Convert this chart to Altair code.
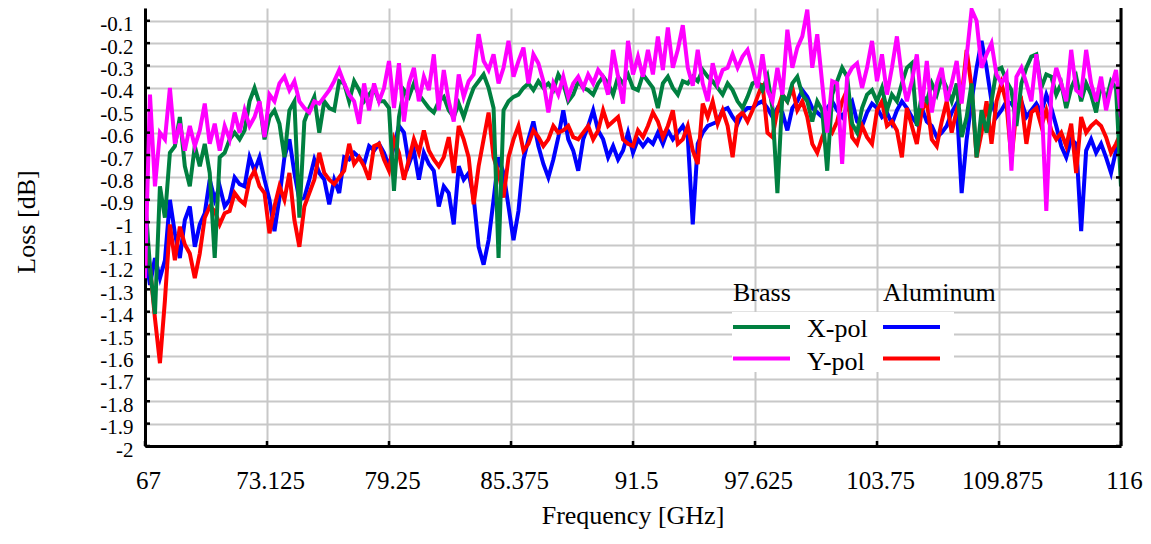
import altair as alt
import pandas as pd

# ---------------- data ----------------
F_START = 67.0
F_STEP = 0.25

x_ticks = [67, 73.125, 79.25, 85.375, 91.5, 97.625, 103.75, 109.875, 116]
y_ticks = [-0.1, -0.2, -0.3, -0.4, -0.5, -0.6, -0.7, -0.8, -0.9, -1.0,
           -1.1, -1.2, -1.3, -1.4, -1.5, -1.6, -1.7, -1.8, -1.9, -2.0]

# Brass, X-pol (green)
brass_xpol = [
    -0.89, -1.20, -1.41, -0.84, -0.98, -0.69, -0.66, -0.53, -0.75, -0.84,
    -0.66, -0.75, -0.65, -0.78, -1.16, -0.71, -0.69, -0.63, -0.60, -0.63,
    -0.59, -0.46, -0.40, -0.47, -0.63, -0.53, -0.50, -0.56, -0.71, -0.50,
    -0.46, -0.98, -0.55, -0.49, -0.44, -0.60, -0.46, -0.49, -0.50, -0.37,
    -0.38, -0.46, -0.37, -0.41, -0.46, -0.43, -0.40, -0.46, -0.46, -0.49,
    -0.86, -0.53, -0.41, -0.44, -0.38, -0.43, -0.46, -0.49, -0.51, -0.46,
    -0.44, -0.50, -0.53, -0.47, -0.53, -0.46, -0.40, -0.37, -0.34, -0.40,
    -0.49, -1.16, -0.50, -0.46, -0.44, -0.43, -0.40, -0.38, -0.41, -0.37,
    -0.40, -0.38, -0.41, -0.34, -0.38, -0.46, -0.43, -0.37, -0.40, -0.41,
    -0.43, -0.38, -0.35, -0.38, -0.43, -0.35, -0.38, -0.34,
    -0.40, -0.41, -0.34, -0.37, -0.40, -0.49, -0.38, -0.35, -0.40, -0.43,
    -0.37, -0.38, -0.35, -0.37, -0.32, -0.35, -0.37, -0.40, -0.43, -0.38,
    -0.41, -0.46, -0.49, -0.44, -0.38, -0.37, -0.41, -0.35, -0.49, -0.87,
    -0.43, -0.46, -0.38, -0.35, -0.43, -0.46, -0.55, -0.46, -0.50, -0.77,
    -0.43, -0.37, -0.31, -0.35, -0.56, -0.60, -0.49, -0.43, -0.41, -0.46,
    -0.40, -0.50, -0.43, -0.46, -0.38, -0.31, -0.29, -0.57, -0.43, -0.46,
    -0.38, -0.43, -0.35, -0.40, -0.46, -0.38, -0.62, -0.53, -0.38, -0.71,
    -0.50, -0.60, -0.46, -0.32, -0.31, -0.37, -0.41, -0.57, -0.38, -0.31,
    -0.26, -0.25, -0.40, -0.34, -0.35, -0.43, -0.38, -0.49, -0.40, -0.35,
    -0.46, -0.38, -0.43, -0.51, -0.38, -0.46, -0.37, -0.40, -0.84,
]

# Brass, Y-pol (magenta)
brass_ypol = [
    -1.25, -0.43, -0.84, -0.60, -0.63, -0.40, -0.65, -0.56, -0.68, -0.57,
    -0.66, -0.59, -0.47, -0.65, -0.56, -0.68, -0.57, -0.63, -0.51, -0.60,
    -0.50, -0.57, -0.53, -0.46, -0.62, -0.43, -0.46, -0.38, -0.35, -0.41,
    -0.37, -0.46, -0.49, -0.51, -0.46, -0.47, -0.44, -0.41, -0.37, -0.32,
    -0.38, -0.43, -0.46, -0.56, -0.38, -0.50, -0.38, -0.46, -0.40, -0.28,
    -0.49, -0.29, -0.55, -0.38, -0.31, -0.46, -0.35, -0.41, -0.25, -0.50,
    -0.32, -0.46, -0.55, -0.34, -0.44, -0.37, -0.34, -0.16, -0.28, -0.32,
    -0.25, -0.38, -0.31, -0.19, -0.35, -0.28, -0.22, -0.38, -0.25, -0.29,
    -0.37, -0.51, -0.38, -0.43, -0.35, -0.44, -0.38, -0.35, -0.40, -0.34,
    -0.38, -0.32, -0.35, -0.43, -0.23, -0.35, -0.47, -0.19,
    -0.34, -0.26, -0.35, -0.23, -0.34, -0.17, -0.32, -0.13, -0.31, -0.23,
    -0.12, -0.31, -0.39, -0.23, -0.38, -0.46, -0.29, -0.38, -0.32, -0.31,
    -0.25, -0.31, -0.26, -0.23, -0.31, -0.40, -0.25, -0.41, -0.46, -0.31,
    -0.43, -0.14, -0.31, -0.22, -0.17, -0.05, -0.31, -0.16, -0.38, -0.60,
    -0.37, -0.38, -0.74, -0.35, -0.31, -0.29, -0.40, -0.31, -0.19, -0.37,
    -0.25, -0.43, -0.31, -0.17, -0.35, -0.46, -0.37, -0.25, -0.49, -0.28,
    -0.51, -0.38, -0.31, -0.46, -0.38, -0.28, -0.47, -0.26, -0.05, -0.10,
    -0.31, -0.25, -0.20, -0.34, -0.38, -0.34, -0.77, -0.35, -0.31, -0.38,
    -0.46, -0.25, -0.43, -0.95, -0.43, -0.31, -0.38, -0.46, -0.23, -0.41,
    -0.43, -0.23, -0.38, -0.46, -0.35, -0.50, -0.40, -0.32, -0.53,
]

# Aluminum, X-pol (blue)
alu_xpol = [
    -1.14, -1.28, -1.16, -1.25, -1.17, -0.90, -1.05, -1.16, -0.99, -0.93,
    -1.11, -1.01, -0.96, -0.81, -0.90, -0.84, -0.93, -0.90, -0.80, -0.83,
    -0.84, -0.71, -0.77, -0.71, -0.81, -0.90, -1.04, -0.89, -0.71, -0.63,
    -0.78, -0.90, -0.89, -0.81, -0.72, -0.78, -0.81, -0.92, -0.81, -0.87,
    -0.71, -0.72, -0.69, -0.71, -0.74, -0.66, -0.68, -0.65, -0.69, -0.75,
    -0.66, -0.57, -0.60, -0.74, -0.68, -0.81, -0.69, -0.74, -0.77, -0.93,
    -0.84, -0.87, -1.01, -0.75, -0.81, -0.78, -0.89, -1.11, -1.19, -1.08,
    -0.90, -0.71, -0.78, -0.93, -1.08, -0.95, -0.72, -0.63, -0.55, -0.66,
    -0.74, -0.80, -0.72, -0.62, -0.50, -0.63, -0.68, -0.77, -0.63, -0.57,
    -0.50, -0.59, -0.63, -0.71, -0.66, -0.72, -0.68, -0.60,
    -0.69, -0.63, -0.66, -0.63, -0.65, -0.60, -0.65, -0.59, -0.63, -0.60,
    -0.57, -0.62, -1.01, -0.65, -0.60, -0.57, -0.56, -0.55, -0.50, -0.49,
    -0.53, -0.56, -0.51, -0.49, -0.49, -0.47, -0.46, -0.49, -0.53, -0.49,
    -0.51, -0.59, -0.49, -0.46, -0.41, -0.44, -0.49, -0.51, -0.53, -0.49,
    -0.46, -0.50, -0.53, -0.49, -0.46, -0.55, -0.57, -0.51, -0.47, -0.49,
    -0.53, -0.51, -0.56, -0.50, -0.46, -0.49, -0.53, -0.56, -0.49, -0.55,
    -0.57, -0.62, -0.60, -0.57, -0.51, -0.47, -0.87, -0.63, -0.46, -0.31,
    -0.19, -0.31, -0.46, -0.53, -0.50, -0.46, -0.47, -0.50, -0.46, -0.53,
    -0.50, -0.47, -0.51, -0.43, -0.49, -0.57, -0.66, -0.71, -0.63, -0.65,
    -1.04, -0.68, -0.63, -0.69, -0.65, -0.71, -0.78, -0.68, -0.60,
]

# Aluminum, Y-pol (red)
alu_ypol = [
    -1.05, -1.20, -1.43, -1.63, -1.35, -1.01, -1.17, -1.02, -1.10, -1.14,
    -1.25, -1.14, -0.98, -0.93, -0.95, -1.01, -0.96, -0.95, -0.87, -0.90,
    -0.92, -0.81, -0.77, -0.84, -0.87, -1.05, -0.93, -0.84, -0.90, -0.78,
    -0.99, -1.11, -0.93, -0.87, -0.81, -0.69, -0.78, -0.81, -0.83, -0.80,
    -0.77, -0.65, -0.74, -0.71, -0.75, -0.81, -0.66, -0.65, -0.72, -0.77,
    -0.63, -0.69, -0.81, -0.72, -0.63, -0.69, -0.59, -0.68, -0.72, -0.75,
    -0.71, -0.62, -0.78, -0.57, -0.63, -0.71, -0.92, -0.75, -0.63, -0.51,
    -0.71, -0.78, -0.89, -0.71, -0.63, -0.57, -0.68, -0.65, -0.59, -0.62,
    -0.66, -0.63, -0.57, -0.60, -0.59, -0.57, -0.62, -0.63, -0.60, -0.57,
    -0.63, -0.59, -0.50, -0.57, -0.55, -0.53, -0.63, -0.65,
    -0.66, -0.59, -0.62, -0.57, -0.51, -0.55, -0.62, -0.57, -0.50, -0.65,
    -0.63, -0.57, -0.68, -0.74, -0.47, -0.53, -0.46, -0.56, -0.50, -0.57,
    -0.71, -0.53, -0.51, -0.55, -0.50, -0.44, -0.38, -0.60, -0.62, -0.50,
    -0.43, -0.46, -0.40, -0.50, -0.46, -0.53, -0.65, -0.69, -0.62, -0.57,
    -0.60, -0.55, -0.46, -0.41, -0.62, -0.65, -0.57, -0.62, -0.65, -0.50,
    -0.46, -0.57, -0.55, -0.59, -0.71, -0.49, -0.57, -0.65, -0.50, -0.46,
    -0.63, -0.66, -0.55, -0.46, -0.60, -0.50, -0.44, -0.23, -0.40, -0.71,
    -0.60, -0.46, -0.65, -0.46, -0.38, -0.47, -0.72, -0.50, -0.46, -0.65,
    -0.51, -0.49, -0.57, -0.50, -0.59, -0.63, -0.60, -0.66, -0.56, -0.78,
    -0.53, -0.60, -0.57, -0.55, -0.57, -0.62, -0.69, -0.65, -0.60,
]

series_names = ["alu_xpol", "alu_ypol", "brass_xpol", "brass_ypol"]  # drawing order
series_values = {"alu_xpol": alu_xpol, "alu_ypol": alu_ypol,
                 "brass_xpol": brass_xpol, "brass_ypol": brass_ypol}
series_colors = {"alu_xpol": "#0000ff", "alu_ypol": "#ff0000",
                 "brass_xpol": "#008040", "brass_ypol": "#ff00ff"}

legend_groups = ["Brass", "Aluminum"]
legend_rows = ["X-pol", "Y-pol"]
legend_colors = [["#008040", "#ff00ff"], ["#0000ff", "#ff0000"]]

for k, v in series_values.items():
    assert len(v) == 197, (k, len(v))

rows = []
for name in series_names:
    for i, val in enumerate(series_values[name]):
        rows.append({"series": name, "freq": F_START + F_STEP * i, "loss": val})
df = pd.DataFrame(rows)

# ---------------- layout ----------------
W, H = 976, 438
FONT = "Liberation Serif"
GRID = "#c8c8c8"

x_scale = alt.Scale(domain=[67, 116], nice=False, zero=False)
y_scale = alt.Scale(domain=[-2, -0.043], nice=False, zero=False)

x_axis = alt.Axis(values=x_ticks, labelExpr="'' + datum.value", title="",
                  labelFont=FONT, labelFontSize=25, labelColor="black",
                  labelPadding=22, labelOffset=3, labelFlush=False, labelOverlap=False,
                  ticks=False, tickSize=0, domainColor="black", domainWidth=3,
                  grid=True, gridColor=GRID, gridWidth=2)
y_axis = alt.Axis(values=y_ticks, tickCount=20, labelExpr="'' + datum.value", title="",
                  labelFont=FONT, labelFontSize=21, labelColor="black",
                  labelPadding=12, labelOffset=4, labelFlush=False, labelOverlap=False,
                  ticks=False, tickSize=0, domainColor="black", domainWidth=3,
                  grid=True, gridColor=GRID, gridWidth=2)


def X(field="freq:Q"):
    return alt.X(field, scale=x_scale, axis=x_axis)


def Y(field="loss:Q"):
    return alt.Y(field, scale=y_scale, axis=y_axis)


base = alt.Chart(df)
layers = []
for name in series_names:
    layers.append(
        base.transform_filter(alt.datum.series == name)
        .mark_line(color=series_colors[name], strokeWidth=4, clip=True)
        .encode(x=X(), y=Y())
    )

ydf = pd.DataFrame({"loss": y_ticks})
xdf = pd.DataFrame({"freq": x_ticks})
one = pd.DataFrame({"k": [0]})
TICK = 5

layers.append(alt.Chart(ydf).mark_rule(color="black", strokeWidth=2.5).encode(
    y=Y(), x=alt.value(0), x2=alt.value(TICK)))
layers.append(alt.Chart(ydf).mark_rule(color="black", strokeWidth=2.5).encode(
    y=Y(), x=alt.value(W - TICK), x2=alt.value(W)))
layers.append(alt.Chart(xdf).mark_rule(color="black", strokeWidth=2.5).encode(
    x=X(), y=alt.value(H - TICK), y2=alt.value(H)))
layers.append(alt.Chart(one).mark_rule(color="black", strokeWidth=3).encode(
    x=alt.value(W), y=alt.value(0), y2=alt.value(H)))

# legend
LX = 588
LCOL = 150
layers.append(alt.Chart(one).mark_rect(color="white").encode(
    x=alt.value(LX - 1), x2=alt.value(LX + 221), y=alt.value(304), y2=alt.value(364)))
for gi, g in enumerate(legend_groups):
    layers.append(alt.Chart(one).mark_text(
        text=g, font=FONT, fontSize=26, align="left", baseline="alphabetic", color="black"
    ).encode(x=alt.value(LX + gi * LCOL), y=alt.value(293)))
    for ri in range(len(legend_rows)):
        yy = 319 + ri * 31.5
        layers.append(alt.Chart(one).mark_rule(
            color=legend_colors[gi][ri], strokeWidth=4
        ).encode(x=alt.value(LX + gi * LCOL), x2=alt.value(LX + gi * LCOL + 57), y=alt.value(yy)))
for ri, r in enumerate(legend_rows):
    layers.append(alt.Chart(one).mark_text(
        text=r, font=FONT, fontSize=26, align="left", baseline="alphabetic", color="black"
    ).encode(x=alt.value(662), y=alt.value(329 + ri * 33)))

# axis titles
layers.append(alt.Chart(one).mark_text(
    text="Frequency [GHz]", font=FONT, fontSize=26, align="center",
    baseline="alphabetic", color="black"
).encode(x=alt.value(W / 2), y=alt.value(516)))
layers.append(alt.Chart(one).mark_text(
    text="Loss [dB]", font=FONT, fontSize=26, align="center", angle=270,
    baseline="alphabetic", color="black"
).encode(x=alt.value(-110), y=alt.value(214)))

chart = alt.layer(*layers).properties(
    width=W, height=H,
    autosize=alt.AutoSizeParams(type="none"),
    padding={"left": 137, "top": 0, "right": 22, "bottom": 84},
    background="white",
).configure_view(strokeWidth=0)

chart.save("out.html", embed_options={"renderer": "svg", "actions": False})
